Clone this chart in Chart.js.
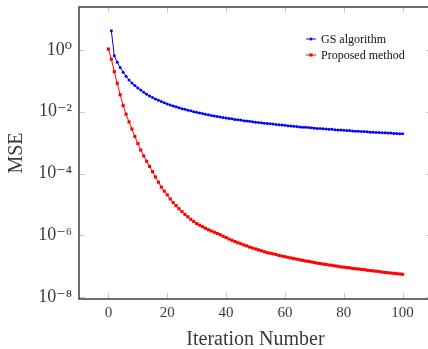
<!DOCTYPE html>
<html>
<head>
<meta charset="utf-8">
<script src="https://cdn.jsdelivr.net/npm/chart.js@4.4.0/dist/chart.umd.min.js"></script>
<style>
html, body { margin: 0; padding: 0; background: #fff; overflow: hidden; }
#wrap { position: relative; width: 436px; height: 349px; }
</style>
</head>
<body>
<div id="wrap"><canvas id="chart"></canvas></div>
<script>
// MSE per iteration, stored as log10(MSE)
var gsStart = 1;
var gsLog10 = [
  0.62, -0.19, -0.40, -0.57, -0.72, -0.85, -0.97, -1.07, -1.15, -1.23,
  -1.30, -1.37, -1.43, -1.49, -1.54, -1.59, -1.63, -1.67, -1.71, -1.75,
  -1.78, -1.81, -1.84, -1.87, -1.90, -1.92, -1.95, -1.97, -2.00, -2.02,
  -2.04, -2.06, -2.08, -2.10, -2.12, -2.14, -2.15, -2.17, -2.19, -2.20,
  -2.22, -2.23, -2.25, -2.26, -2.27, -2.29, -2.30, -2.31, -2.32, -2.34,
  -2.35, -2.36, -2.37, -2.38, -2.39, -2.40, -2.41, -2.42, -2.43, -2.44,
  -2.45, -2.46, -2.47, -2.48, -2.49, -2.50, -2.50, -2.51, -2.52, -2.53,
  -2.54, -2.54, -2.55, -2.56, -2.57, -2.57, -2.58, -2.59, -2.59, -2.60,
  -2.61, -2.61, -2.62, -2.63, -2.63, -2.64, -2.64, -2.65, -2.66, -2.66,
  -2.67, -2.67, -2.68, -2.68, -2.69, -2.69, -2.70, -2.70, -2.71, -2.71
];

var proposedStart = 0;
var proposedLog10 = [
  0.03,
  -0.30, -0.70, -1.08, -1.45, -1.80, -2.08, -2.33, -2.56, -2.80, -3.03,
  -3.24, -3.43, -3.60, -3.77, -3.94, -4.11, -4.28, -4.44, -4.57, -4.69,
  -4.82, -4.94, -5.04, -5.14, -5.23, -5.32, -5.40, -5.48, -5.55, -5.62,
  -5.67, -5.72, -5.77, -5.82, -5.86, -5.90, -5.94, -5.98, -6.03, -6.07,
  -6.12, -6.16, -6.20, -6.24, -6.27, -6.31, -6.34, -6.38, -6.41, -6.44,
  -6.47, -6.50, -6.53, -6.56, -6.58, -6.60, -6.62, -6.65, -6.67, -6.69,
  -6.71, -6.73, -6.75, -6.77, -6.79, -6.81, -6.83, -6.84, -6.86, -6.88,
  -6.90, -6.91, -6.93, -6.94, -6.96, -6.97, -6.99, -7.00, -7.02, -7.03,
  -7.04, -7.05, -7.07, -7.08, -7.09, -7.10, -7.11, -7.13, -7.14, -7.15,
  -7.16, -7.17, -7.19, -7.20, -7.21, -7.22, -7.23, -7.24, -7.25, -7.26
];

var xTicks = [0, 20, 40, 60, 80, 100];
var yTickExponents = [0, -2, -4, -6, -8];
var seriesLabels = ['GS algorithm', 'Proposed method'];

var SUP = {'0':'⁰','1':'¹','2':'²','3':'³','4':'⁴','5':'⁵','6':'⁶','7':'⁷','8':'⁸','9':'⁹','-':'⁻'};

function toPoints(start, logs) {
    return logs.map(function (v, i) {
        return {x: start + i, y: Math.pow(10, v)};
    });
}

const serif = '"Liberation Serif", "DejaVu Serif", serif';
const textColor = '#3a3a3a';

// pgfplots style frame with small inner tick marks on every side
const frame = {
    id: 'frame',
    afterDatasetsDraw(chart) {
        const ctx = chart.ctx;
        const a = chart.chartArea;
        const xs = chart.scales.x, ys = chart.scales.y;
        ctx.save();
        ctx.strokeStyle = '#c8c8c8';
        ctx.lineWidth = 1;
        ctx.beginPath();
        xs.ticks.forEach(function (t) {
            var px = Math.round(xs.getPixelForValue(t.value)) + 0.5;
            ctx.moveTo(px, a.bottom); ctx.lineTo(px, a.bottom - 6);
            ctx.moveTo(px, a.top); ctx.lineTo(px, a.top + 6);
        });
        ys.ticks.forEach(function (t) {
            var py = Math.round(ys.getPixelForValue(t.value)) + 0.5;
            ctx.moveTo(a.left, py); ctx.lineTo(a.left + 6, py);
            ctx.moveTo(a.right, py); ctx.lineTo(a.right - 6, py);
        });
        ctx.stroke();
        ctx.strokeStyle = '#333';
        ctx.lineWidth = 1.4;
        ctx.strokeRect(a.left, a.top, a.right - a.left, a.bottom - a.top);
        ctx.restore();
    }
};

const legendBox = {
    id: 'legendBox',
    afterDraw(chart) {
        const ctx = chart.ctx;
        const a = chart.chartArea;
        ctx.save();
        ctx.font = '12px ' + serif;
        ctx.textBaseline = 'middle';
        chart.data.datasets.forEach(function (ds, i) {
            var x = a.right - 126, y = a.top + 32 + i * 16;
            ctx.strokeStyle = ds.borderColor;
            ctx.lineWidth = 1;
            ctx.beginPath(); ctx.moveTo(x, y); ctx.lineTo(x + 10, y); ctx.stroke();
            ctx.fillStyle = ds.backgroundColor;
            Chart.helpers.drawPoint(ctx, {pointStyle: ds.pointStyle, radius: ds.pointRadius, rotation: 0, borderWidth: 0}, x + 5, y);
            ctx.fillStyle = '#111';
            ctx.fillText(ds.label, x + 15, y + 0.5);
        });
        ctx.restore();
    }
};

var ctx = document.getElementById('chart').getContext('2d');

var chart = new Chart(ctx, {
    type: 'line',
    data: {
        datasets: [{
            label: seriesLabels[0],
            data: toPoints(gsStart, gsLog10),
            borderColor: '#0000ff',
            backgroundColor: '#0000ff',
            borderWidth: 1,
            pointStyle: 'circle',
            pointRadius: 1.5,
            pointBorderWidth: 0,
            fill: false
        }, {
            label: seriesLabels[1],
            data: toPoints(proposedStart, proposedLog10),
            borderColor: '#ff0000',
            backgroundColor: '#ff0000',
            borderWidth: 1,
            pointStyle: 'rect',
            pointRadius: 2.2,
            pointBorderWidth: 0,
            fill: false
        }]
    },
    options: {
        responsive: true,
        maintainAspectRatio: false,
        animation: false,
        layout: {padding: {top: 7, right: 2, left: 0, bottom: 0}},
        plugins: {
            legend: {display: false},
            tooltip: {enabled: false}
        },
        scales: {
            x: {
                type: 'linear',
                min: -10,
                max: 110,
                grid: {display: false, drawTicks: false},
                border: {display: false},
                afterBuildTicks: function (scale) {
                    scale.ticks = xTicks.map(function (v) { return {value: v}; });
                },
                afterFit: function (scale) {
                    scale.height = 50;
                    scale.paddingLeft = 0;
                    scale.paddingRight = 0;
                },
                ticks: {
                    padding: 5,
                    color: textColor,
                    font: {family: serif, size: 15}
                },
                title: {
                    display: true,
                    text: 'Iteration Number',
                    color: textColor,
                    padding: {top: 0, bottom: -3},
                    font: {family: serif, size: 20}
                }
            },
            y: {
                type: 'logarithmic',
                min: Math.pow(10, -8.06),
                max: Math.pow(10, 1.39),
                grid: {display: false, drawTicks: false},
                border: {display: false},
                afterBuildTicks: function (scale) {
                    scale.ticks = yTickExponents.map(function (e) { return {value: Math.pow(10, e)}; });
                },
                afterFit: function (scale) {
                    scale.width = 79;
                    scale.paddingTop = 0;
                    scale.paddingBottom = 0;
                },
                ticks: {
                    padding: 7,
                    color: textColor,
                    font: {family: serif, size: 18},
                    callback: function (v) {
                        var e = String(Math.round(Math.log10(v)));
                        return '10' + e.split('').map(function (c) { return SUP[c]; }).join('');
                    }
                },
                title: {
                    display: true,
                    text: 'MSE',
                    color: textColor,
                    padding: {top: 5, bottom: 0},
                    font: {family: serif, size: 20}
                }
            }
        }
    },
    plugins: [frame, legendBox]
});
</script>
</body>
</html>
